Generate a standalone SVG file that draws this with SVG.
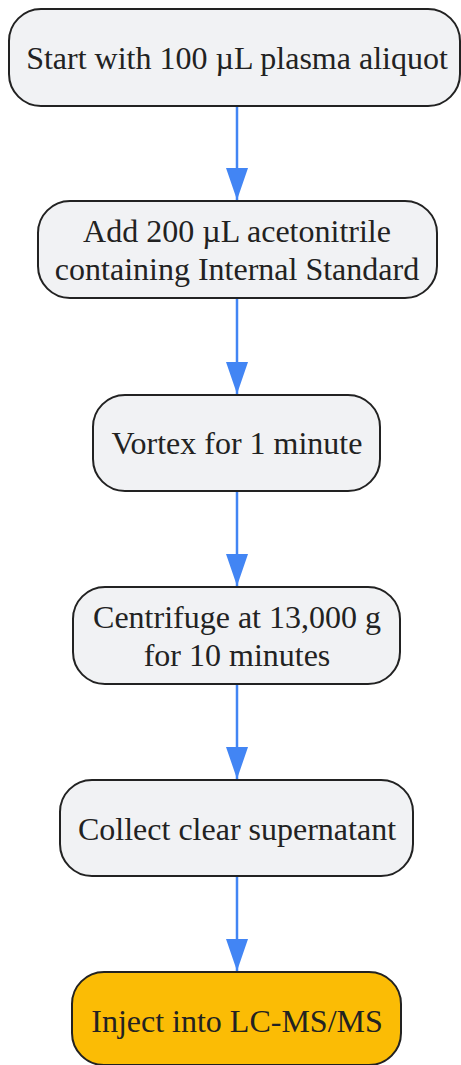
<svg xmlns="http://www.w3.org/2000/svg" width="461" height="1065" viewBox="0 0 461 1065">
<style>
.n rect{fill:#f1f2f4;stroke:#222;stroke-width:2}
.n.hl rect{fill:#fbbc05}
.n text{font-family:"Liberation Serif",serif;font-size:32px;fill:#222;text-anchor:middle}
.c line{stroke:#4285f4;stroke-width:2.5}
</style>
<defs>
<marker id="ah" markerWidth="32" markerHeight="22" refX="32" refY="11" orient="auto" markerUnits="userSpaceOnUse" viewBox="0 0 32 22">
<path d="M0,0L32,11L0,22Z" fill="#4285f4"/>
</marker>
</defs>
<g class="c">
<line x1="237" y1="106" x2="237" y2="200" marker-end="url(#ah)"/>
<line x1="237" y1="298" x2="237" y2="394" marker-end="url(#ah)"/>
<line x1="237" y1="491" x2="237" y2="586" marker-end="url(#ah)"/>
<line x1="237" y1="684" x2="237" y2="779" marker-end="url(#ah)"/>
<line x1="237" y1="876" x2="237" y2="971" marker-end="url(#ah)"/>
</g>
<g id="n1" class="n"><rect x="9" y="9" width="451" height="97" rx="32"/><text x="237" y="69">Start with 100 µL plasma aliquot</text></g>
<g id="n2" class="n"><rect x="38" y="201" width="399" height="97" rx="32"/><text x="237" y="242">Add 200 µL acetonitrile</text><text x="237" y="280">containing Internal Standard</text></g>
<g id="n3" class="n"><rect x="93" y="395" width="287" height="96" rx="32"/><text x="237" y="454">Vortex for 1 minute</text></g>
<g id="n4" class="n"><rect x="73" y="587" width="327" height="97" rx="32"/><text x="237" y="628">Centrifuge at 13,000 g</text><text x="237" y="666">for 10 minutes</text></g>
<g id="n5" class="n"><rect x="60" y="780" width="353" height="96" rx="32"/><text x="237" y="840">Collect clear supernatant</text></g>
<g id="n6" class="n hl"><rect x="72" y="972" width="329" height="93" rx="32"/><text x="237" y="1032">Inject into LC-MS/MS</text></g>
</svg>
